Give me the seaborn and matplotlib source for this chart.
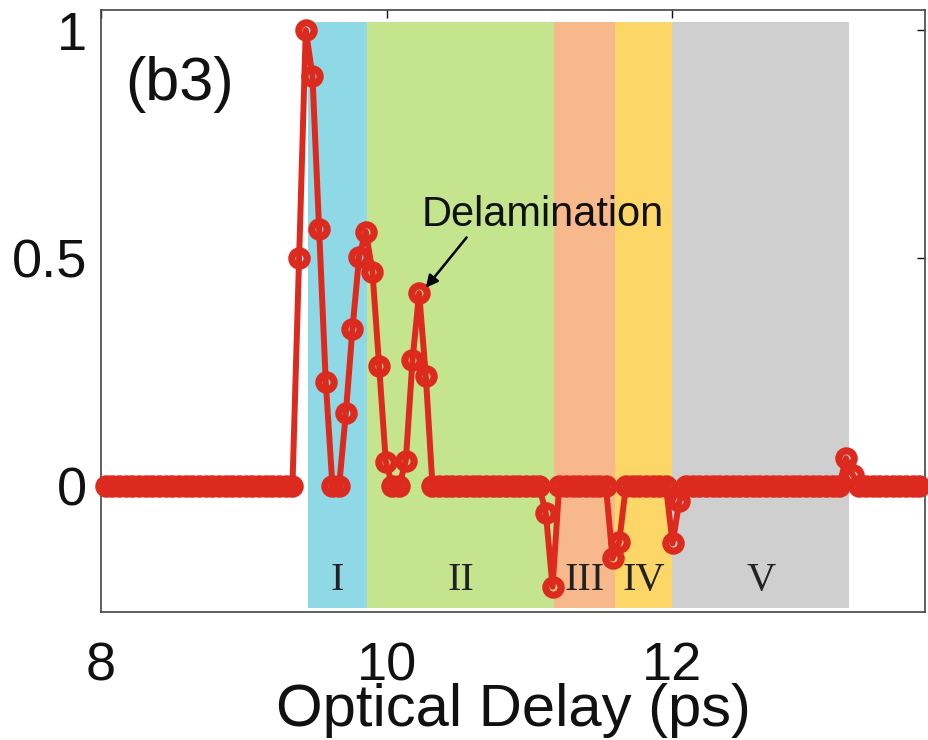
import numpy as np
import pandas as pd
import matplotlib
matplotlib.use("Agg")
import matplotlib.pyplot as plt
import seaborn as sns

# ---- data -------------------------------------------------------------
# optical-delay scan grid (ps): start and step of the sampling
scan_start = 8.033
scan_step = 0.0467
signal = [
    0, 0, 0, 0, 0, 0, 0, 0, 0, 0,
    0, 0, 0, 0, 0, 0, 0, 0, 0, 0,
    0, 0, 0, 0, 0, 0, 0, 0, 0, 0.50,
    1.00, 0.90, 0.563, 0.227, 0, 0, 0.159, 0.344, 0.503, 0.558,
    0.47, 0.263, 0.053, 0, 0, 0.055, 0.276, 0.423, 0.241, 0,
    0, 0, 0, 0, 0, 0, 0, 0, 0, 0,
    0, 0, 0, 0, 0, 0, -0.06, -0.221, 0, 0,
    0, 0, 0, 0, 0, 0, -0.159, -0.122, 0, 0,
    0, 0, 0, 0, 0, -0.126, -0.034, 0, 0, 0,
    0, 0, 0, 0, 0, 0, 0, 0, 0, 0,
    0, 0, 0, 0, 0, 0, 0, 0, 0, 0,
    0, 0.061, 0.025, 0, 0, 0, 0, 0, 0, 0,
    0, 0, 0,
]
delay = np.round(scan_start + scan_step * np.arange(len(signal)), 4)

region_labels = ["I", "II", "III", "IV", "V"]
region_start = [9.45, 9.862, 11.175, 11.60, 12.0]
region_end = [9.862, 11.175, 11.60, 12.0, 13.24]
region_colors = ["#8fd8e6", "#c5e48e", "#f7b98c", "#fcd768", "#cfcfcf"]

xticks = [8, 10, 12]
xtick_labels = ["8", "10", "12"]
yticks = [0, 0.5, 1]
ytick_labels = ["0", "0.5", "1"]

df = pd.DataFrame({"delay": delay, "signal": signal})

# ---- figure -----------------------------------------------------------
sns.set_style("white")
plt.rcParams["font.family"] = ["Liberation Sans", "DejaVu Sans"]
plt.rcParams["text.color"] = "#111111"
plt.rcParams["axes.labelcolor"] = "#111111"
plt.rcParams["xtick.color"] = "#111111"
plt.rcParams["ytick.color"] = "#111111"

fig = plt.figure(figsize=(9.29, 7.40), dpi=100)
ax = fig.add_axes([0.1087, 0.1730, 0.887, 0.8135])

for s, e, c in zip(region_start, region_end, region_colors):
    ax.fill_between([s, e], -0.268, 1.018, color=c, linewidth=0, zorder=0)

for s, e, lab in zip(region_start, region_end, region_labels):
    ax.text((s + e) / 2, -0.208, lab, ha="center", va="center",
            family=["Liberation Serif", "DejaVu Serif"], fontsize=29,
            color="#222222", zorder=1)

sns.lineplot(data=df, x="delay", y="signal", ax=ax, estimator=None,
             sort=False, color="#dc2a1e", linewidth=4.3, marker="o",
             markersize=11, markerfacecolor="none",
             markeredgewidth=5.2, markeredgecolor="#dc2a1e",
             clip_on=False, zorder=3)

ax.set_xlim(8, 13.77)
ax.set_ylim(-0.2763, 1.0439)
ax.set_xticks(xticks)
ax.set_xticklabels(xtick_labels)
ax.set_yticks(yticks)
ax.set_yticklabels(ytick_labels)
ax.tick_params(axis="both", direction="in", length=6, width=1,
               labelsize=39, top=True, right=True)
ax.tick_params(axis="x", pad=21)
ax.tick_params(axis="y", pad=10)
for sp in ax.spines.values():
    sp.set_visible(True)
    sp.set_color("#444444")
    sp.set_linewidth(1.2)

ax.set_xlabel("Optical Delay (ps)", fontsize=43, labelpad=-6)
ax.set_ylabel("")

ax.text(8.17, 0.88, "(b3)", fontsize=44, ha="left", va="center",
        zorder=4)

ax.text(11.09, 0.595, "Delamination", fontsize=30, ha="center",
        va="center", zorder=4)
ax.annotate("", xy=(10.262, 0.43), xytext=(10.56, 0.545),
            arrowprops=dict(arrowstyle="-|>", color="black", lw=1.8,
                            mutation_scale=18, shrinkA=0, shrinkB=2),
            zorder=4)

fig.savefig("out.png", dpi=100)
